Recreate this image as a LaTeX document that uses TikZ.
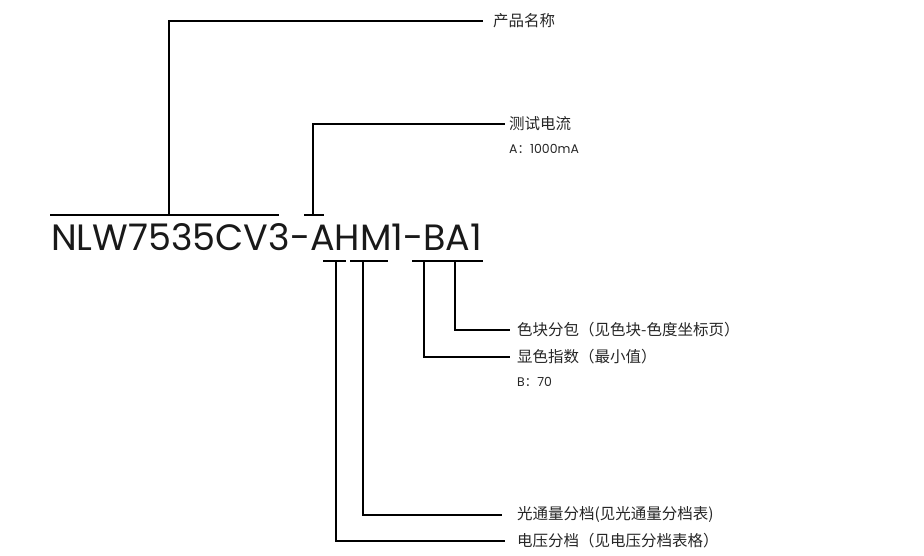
\documentclass[tikz,border=0pt]{standalone}
\usepackage{fontspec}
\newfontfamily\cjk{Noto Sans CJK SC}
\newfontfamily\partfont{Poppins}
\usetikzlibrary{calc}
\tikzset{
  lead/.style={line width=1.7pt},
  note/.style={anchor=west, inner sep=0pt, text=black!85, font=\cjk\fontsize{15.5}{18}\selectfont},
  subnote/.style={anchor=west, inner sep=0pt, text=black!85, font=\partfont\fontsize{12.5}{14}\selectfont}
}

\begin{document}
\begin{tikzpicture}[x=1pt, y=-1pt]
        \useasboundingbox (0,0) rectangle (924,556);
        % part number
        \node[anchor=base west, inner sep=0pt, text=black!90] (pn) at (51,251)
          {\resizebox{431pt}{27pt}{\partfont NLW7535CV3-AHM1-BA1}};
        % labels
        \node[note] (name) at (493,21) {产品名称};
        \node[note] (test) at (509,124) {测试电流};
        \node[subnote] (testval) at (509,149) {A{\cjk ：}1000mA};
        \node[note] (block) at (517,330) {色块分包（见色块-色度坐标页）};
        \node[note] (cri) at (517,357) {显色指数（最小值）};
        \node[subnote] (crival) at (517,382) {B{\cjk ：}70};
        \node[note] (flux) at (517,515) {光通量分档(见光通量分档表)};
        \node[note] (volt) at (517,541) {电压分档（见电压分档表格）};
        % marks above
        \coordinate (nameL) at (50,215);
        \coordinate (nameR) at (279,215);
        \coordinate (nameT) at (169,215);
        \coordinate (testL) at (304,215);
        \coordinate (testR) at (324,215);
        \coordinate (testT) at (313,215);
        % marks below
        \coordinate (voltL) at (323,261);
        \coordinate (voltR) at (346,261);
        \coordinate (voltT) at (336,261);
        \coordinate (fluxL) at (350,261);
        \coordinate (fluxR) at (388,261);
        \coordinate (fluxT) at (363,261);
        \coordinate (criL) at (412,261);
        \coordinate (criR) at (435,261);
        \coordinate (criT) at (424,261);
        \coordinate (blockL) at (435,261);
        \coordinate (blockR) at (483,261);
        \coordinate (blockT) at (455,261);
        % bars
        \foreach \m in {name,test,volt,flux,cri,block}
          \draw[lead] (\m L) -- (\m R);
        % leaders
        \draw[lead] (nameT) |- ([xshift=-10pt]name.west);
        \draw[lead] (testT) |- ([xshift=-4pt]test.west);
        \draw[lead] (blockT) |- ([xshift=-7pt]block.west);
        \draw[lead] (criT) |- ([xshift=-7pt]cri.west);
        \draw[lead] (fluxT) |- ([xshift=-15pt]flux.west);
        \draw[lead] (voltT) |- ([xshift=-12pt]volt.west);
\end{tikzpicture}
\end{document}
